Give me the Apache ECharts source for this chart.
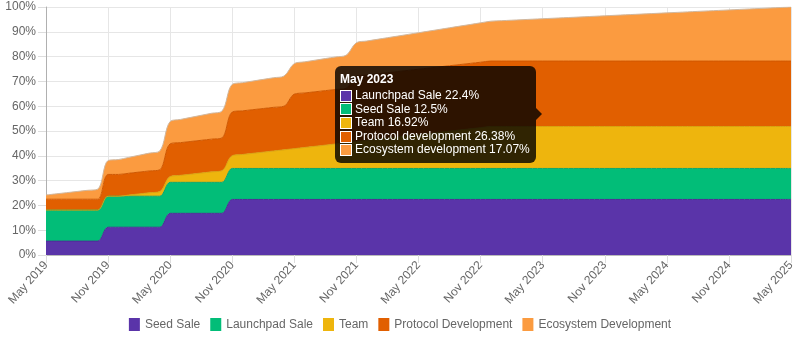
<!DOCTYPE html>
<html>
<head>
<meta charset="utf-8">
<script src="https://cdn.jsdelivr.net/npm/echarts@6/dist/echarts.min.js"></script>
<style>
html,body{margin:0;padding:0;background:#fff;}
#c{width:800px;height:341px;}
</style>
</head>
<body>
<div id="c"></div>
<script>
const months = ['May 2019','Jun 2019','Jul 2019','Aug 2019','Sep 2019','Oct 2019','Nov 2019','Dec 2019',
'Jan 2020','Feb 2020','Mar 2020','Apr 2020','May 2020','Jun 2020','Jul 2020','Aug 2020','Sep 2020','Oct 2020','Nov 2020','Dec 2020',
'Jan 2021','Feb 2021','Mar 2021','Apr 2021','May 2021','Jun 2021','Jul 2021','Aug 2021','Sep 2021','Oct 2021','Nov 2021','Dec 2021',
'Jan 2022','Feb 2022','Mar 2022','Apr 2022','May 2022','Jun 2022','Jul 2022','Aug 2022','Sep 2022','Oct 2022','Nov 2022','Dec 2022',
'Jan 2023','Feb 2023','Mar 2023','Apr 2023','May 2023','Jun 2023','Jul 2023','Aug 2023','Sep 2023','Oct 2023','Nov 2023','Dec 2023',
'Jan 2024','Feb 2024','Mar 2024','Apr 2024','May 2024','Jun 2024','Jul 2024','Aug 2024','Sep 2024','Oct 2024','Nov 2024','Dec 2024',
'Jan 2025','Feb 2025','Mar 2025','Apr 2025','May 2025'];

const seedSale = [5.6,5.6,5.6,5.6,5.6,5.6,11.2,11.2,11.2,11.2,11.2,11.2,16.8,16.8,16.8,16.8,16.8,16.8,
22.4,22.4,22.4,22.4,22.4,22.4,22.4,22.4,22.4,22.4,22.4,22.4,22.4,22.4,22.4,22.4,22.4,22.4,22.4,22.4,22.4,22.4,
22.4,22.4,22.4,22.4,22.4,22.4,22.4,22.4,22.4,22.4,22.4,22.4,22.4,22.4,22.4,22.4,22.4,22.4,22.4,22.4,22.4,22.4,
22.4,22.4,22.4,22.4,22.4,22.4,22.4,22.4,22.4,22.4,22.4];

const launchpadSale = [12.5,12.5,12.5,12.5,12.5,12.5,12.5,12.5,12.5,12.5,12.5,12.5,12.5,12.5,12.5,12.5,12.5,12.5,
12.5,12.5,12.5,12.5,12.5,12.5,12.5,12.5,12.5,12.5,12.5,12.5,12.5,12.5,12.5,12.5,12.5,12.5,12.5,12.5,12.5,12.5,
12.5,12.5,12.5,12.5,12.5,12.5,12.5,12.5,12.5,12.5,12.5,12.5,12.5,12.5,12.5,12.5,12.5,12.5,12.5,12.5,12.5,12.5,
12.5,12.5,12.5,12.5,12.5,12.5,12.5,12.5,12.5,12.5,12.5];

const team = [0,0,0,0,0,0,0,0,0.47,0.94,1.41,1.88,2.35,2.82,3.29,3.76,4.23,4.70,5.17,5.64,6.11,6.58,7.05,7.52,
7.99,8.46,8.93,9.40,9.87,10.34,10.81,11.28,11.75,12.22,12.69,13.16,13.63,14.10,14.57,15.04,15.51,15.98,16.45,16.92,
16.92,16.92,16.92,16.92,16.92,16.92,16.92,16.92,16.92,16.92,16.92,16.92,16.92,16.92,16.92,16.92,16.92,16.92,
16.92,16.92,16.92,16.92,16.92,16.92,16.92,16.92,16.92,16.92,16.92];

const protocolDev = [4.4,4.4,4.4,4.4,4.4,4.4,8.79,8.79,8.79,8.79,8.79,8.79,13.19,13.19,13.19,13.19,13.19,13.19,
17.59,17.59,17.59,17.59,17.59,17.59,21.98,21.98,21.98,21.98,21.98,21.98,
26.38,26.38,26.38,26.38,26.38,26.38,26.38,26.38,26.38,26.38,26.38,26.38,26.38,26.38,26.38,26.38,26.38,26.38,
26.38,26.38,26.38,26.38,26.38,26.38,26.38,26.38,26.38,26.38,26.38,26.38,26.38,26.38,26.38,26.38,26.38,26.38,
26.38,26.38,26.38,26.38,26.38,26.38,26.38];

const ecosystemDev = [1.70,2.17,2.64,3.11,3.58,4.05,5.60,6.00,6.40,6.80,7.20,7.60,9.00,9.36,9.72,10.08,10.44,10.80,
11.16,11.36,11.55,11.75,11.95,12.15,12.34,12.54,12.74,12.93,13.13,13.33,13.52,13.72,13.92,14.12,14.31,14.51,
14.71,14.90,15.10,15.30,15.50,15.69,15.89,16.09,16.28,16.48,16.68,16.88,17.07,17.27,17.47,17.66,17.86,18.06,
18.25,18.45,18.65,18.85,19.04,19.24,19.44,19.63,19.83,20.03,20.23,20.42,20.62,20.82,21.01,21.21,21.41,21.61,21.80];

const legendNames = ['Seed Sale','Launchpad Sale','Team','Protocol Development','Ecosystem Development'];
const tooltipNames = ['Launchpad Sale','Seed Sale','Team','Protocol development','Ecosystem development'];
const colors = ['#5a34a9','#02bd78','#eeb50d','#e15f00','#fb9b40'];
const lineColors = ['#4e2c96','#0aa66c','#d9a30f','#cf5800','#d0b8a0'];
const yTicks = [0,10,20,30,40,50,60,70,80,90,100];
const tipCategory = 'May 2023';

const seriesData = [seedSale, launchpadSale, team, protocolDev, ecosystemDev];
const FONT = '"Liberation Sans", Arial, Helvetica, sans-serif';

const chart = echarts.init(document.getElementById('c'), null, {renderer:'canvas'});

const tipIndex = months.indexOf(tipCategory);

const option = {
  animation: false,
  textStyle: {fontFamily: FONT},
  grid: {left: 46, right: 9, top: 7, bottom: 86, containLabel: false},
  legend: {
    bottom: 5, left: 'center',
    itemWidth: 11, itemHeight: 13, itemGap: 10,
    icon: 'rect',
    textStyle: {color: '#666', fontSize: 12, fontFamily: FONT},
    data: legendNames
  },
  tooltip: {
    trigger: 'axis',
    alwaysShowContent: true,
    transitionDuration: 0,
    axisPointer: {type: 'none'},
    backgroundColor: 'rgba(0,0,0,0.8)',
    borderWidth: 0,
    padding: [6, 6, 6, 5],
    extraCssText: 'border-radius:6px;box-shadow:none;overflow:visible;',
    textStyle: {color: '#fff', fontSize: 12, fontFamily: FONT},
    position: function (point, params, dom, rect, size) {
      return [point[0] - size.contentSize[0] - 7, point[1] - size.contentSize[1] / 2];
    },
    formatter: function (params) {
      const idx = params[0].dataIndex;
      let html = '<div style="position:relative;line-height:13.6px;">';
      html += '<div style="font-weight:bold;margin-bottom:3px;line-height:14px;">' + months[idx] + '</div>';
      for (let i = 0; i < seriesData.length; i++) {
        html += '<div style="white-space:nowrap;height:13.6px;display:flex;align-items:center;">' +
          '<span style="display:inline-block;width:10px;height:10px;background:' + colors[i] +
          ';border:1px solid #fff;margin-right:3px;"></span>' + tooltipNames[i] + ' ' + seriesData[i][idx] + '%</div>';
      }
      html += '</div>';
      html += '<div style="position:absolute;right:-6px;top:50%;margin-top:-6px;width:0;height:0;border-top:6px solid transparent;border-bottom:6px solid transparent;border-left:6px solid rgba(0,0,0,0.8);"></div>';
      return html;
    }
  },
  xAxis: {
    type: 'category',
    boundaryGap: false,
    data: months,
    axisLine: {show: true, lineStyle: {color: '#bbb'}},
    axisTick: {show: true, interval: 5, length: 8, lineStyle: {color: '#ddd'}},
    splitLine: {show: true, interval: 5, lineStyle: {color: '#e6e6e6'}},
    axisLabel: {interval: 5, rotate: 48, color: '#666', fontSize: 12, margin: 8, fontFamily: FONT}
  },
  yAxis: {
    type: 'value',
    min: yTicks[0], max: yTicks[yTicks.length - 1], interval: 10,
    axisLine: {show: true, lineStyle: {color: '#b0b0b0'}},
    axisTick: {show: true, length: 8, lineStyle: {color: '#ddd'}},
    splitLine: {show: true, lineStyle: {color: '#e6e6e6'}},
    axisLabel: {formatter: '{value}%', color: '#666', fontSize: 12, margin: 10, fontFamily: FONT}
  },
  series: seriesData.map(function (d, i) {
    return {
      name: legendNames[i],
      type: 'line',
      stack: 'total',
      data: d,
      smooth: 0.35,
      symbol: 'none',
      showSymbol: false,
      itemStyle: {color: colors[i]},
      lineStyle: {color: lineColors[i], width: 1},
      areaStyle: {color: colors[i], opacity: 1},
      emphasis: {disabled: true},
      blur: {areaStyle: {opacity: 1}, lineStyle: {opacity: 1}}
    };
  })
};

chart.setOption(option);

let cum = 0, sumY = 0;
for (let i = 0; i < seriesData.length; i++) { cum += seriesData[i][tipIndex]; sumY += cum; }
const pt = chart.convertToPixel({gridIndex: 0}, [tipIndex, sumY / seriesData.length]);
chart.dispatchAction({type: 'showTip', x: pt[0], y: pt[1]});
</script>
</body>
</html>
